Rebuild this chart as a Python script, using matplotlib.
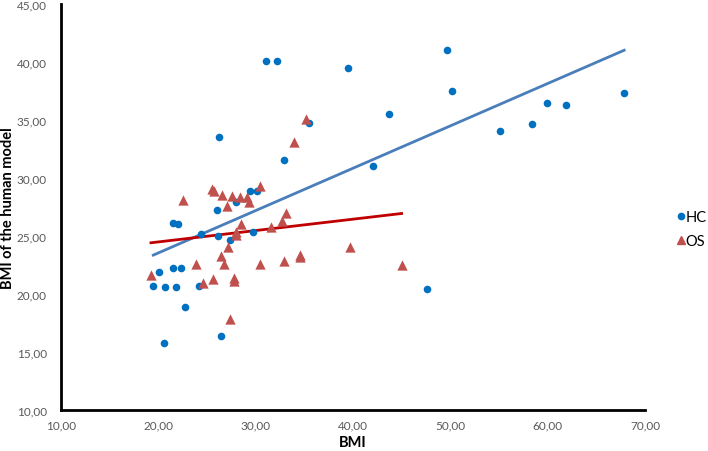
import numpy as np
import matplotlib.pyplot as plt
from matplotlib.ticker import FuncFormatter, MultipleLocator
from matplotlib.lines import Line2D

# HC group: BMI vs BMI of the human model
hc_bmi = [31.07, 32.17, 35.52, 26.24, 32.9, 29.4, 30.1, 28.0, 26.06, 21.47,
          22.05, 24.39, 26.17, 27.33, 29.76, 20.1, 21.47, 22.33, 19.49, 20.66,
          21.79, 24.2, 22.7, 20.55, 26.4, 39.53, 49.7, 50.15, 43.7, 42.1,
          55.1, 58.37, 59.9, 61.9, 67.86, 47.65]
hc_model = [40.06, 40.06, 34.7, 33.5, 31.55, 28.9, 28.9, 27.96, 27.24, 26.12,
            26.03, 25.2, 25.0, 24.68, 25.34, 21.93, 22.2, 22.2, 20.72, 20.6,
            20.6, 20.72, 18.85, 15.75, 16.38, 39.48, 41.03, 37.53, 35.55, 31.06,
            34.02, 34.66, 36.47, 36.32, 37.3, 20.43]

# OS group
os_bmi = [35.18, 33.98, 25.5, 25.7, 30.5, 26.55, 27.6, 28.4, 29.08, 29.32,
          22.5, 27.1, 33.1, 32.75, 28.47, 27.95, 27.95, 31.55, 27.16, 26.47,
          26.78, 23.87, 30.48, 32.92, 34.6, 34.6, 19.25, 24.56, 25.62, 27.78,
          27.78, 27.4, 39.74, 45.0]
os_model = [35.09, 33.13, 29.05, 28.9, 29.3, 28.53, 28.47, 28.33, 28.33, 27.96,
            28.1, 27.6, 26.96, 26.27, 26.03, 25.37, 25.1, 25.75, 24.08, 23.25,
            22.56, 22.56, 22.59, 22.87, 23.36, 23.2, 21.64, 20.92, 21.3, 21.38,
            21.1, 17.84, 24.05, 22.5]

HC_COLOR = '#0070C0'
OS_COLOR = '#C0504D'
FONT = ['Lato', 'DejaVu Sans']

fig = plt.figure(figsize=(7.08, 4.52), dpi=100)
ax = fig.add_axes([0.086, 0.091, 0.825, 0.898])

ax.scatter(hc_bmi, hc_model, s=30, color=HC_COLOR, marker='o', zorder=3, linewidths=0)
ax.scatter(os_bmi, os_model, s=55, color=OS_COLOR, marker='^', zorder=3, linewidths=0)

# linear trendlines over each group's range
for xs, ys, c in [(hc_bmi, hc_model, '#4A7EBB'), (os_bmi, os_model, '#C00000')]:
    xs = np.array(xs)
    k, b = np.polyfit(xs, ys, 1)
    xr = np.array([xs.min(), xs.max()])
    ax.plot(xr, k * xr + b, color=c, lw=2, zorder=2)

ax.set_xlim(10, 70)
ax.set_ylim(10, 45)
ax.xaxis.set_major_locator(MultipleLocator(10))
ax.yaxis.set_major_locator(MultipleLocator(5))
fmt = FuncFormatter(lambda v, p: f'{v:.2f}'.replace('.', ','))
ax.xaxis.set_major_formatter(fmt)
ax.yaxis.set_major_formatter(fmt)

for s in ['top', 'right']:
    ax.spines[s].set_visible(False)
for s in ['left', 'bottom']:
    ax.spines[s].set_linewidth(2)
    ax.spines[s].set_color('black')
ax.tick_params(length=0, labelsize=8.5, labelcolor='#595959')
ax.tick_params(axis='x', pad=7)
ax.tick_params(axis='y', pad=10)
for lab in ax.get_xticklabels() + ax.get_yticklabels():
    lab.set_family(FONT)

ax.set_xlabel('BMI', fontsize=10.5, fontweight='bold', family=FONT, labelpad=3)
ax.set_ylabel('BMI of the human model', fontsize=10.5, fontweight='bold', family=FONT)
ax.yaxis.set_label_coords(-0.079, 0.5)

handles = [
    Line2D([], [], marker='o', color=HC_COLOR, ls='none', markersize=4.5),
    Line2D([], [], marker='^', color=OS_COLOR, ls='none', markersize=6),
]
fig.legend(handles, ['HC', 'OS'], loc='center left', bbox_to_anchor=(0.949, 0.491),
           frameon=False, handletextpad=0.05, labelspacing=0.7, borderpad=0.3,
           borderaxespad=0, prop={'family': FONT, 'size': 10.5}, handlelength=0.6)

fig.savefig('out.png', dpi=100)
